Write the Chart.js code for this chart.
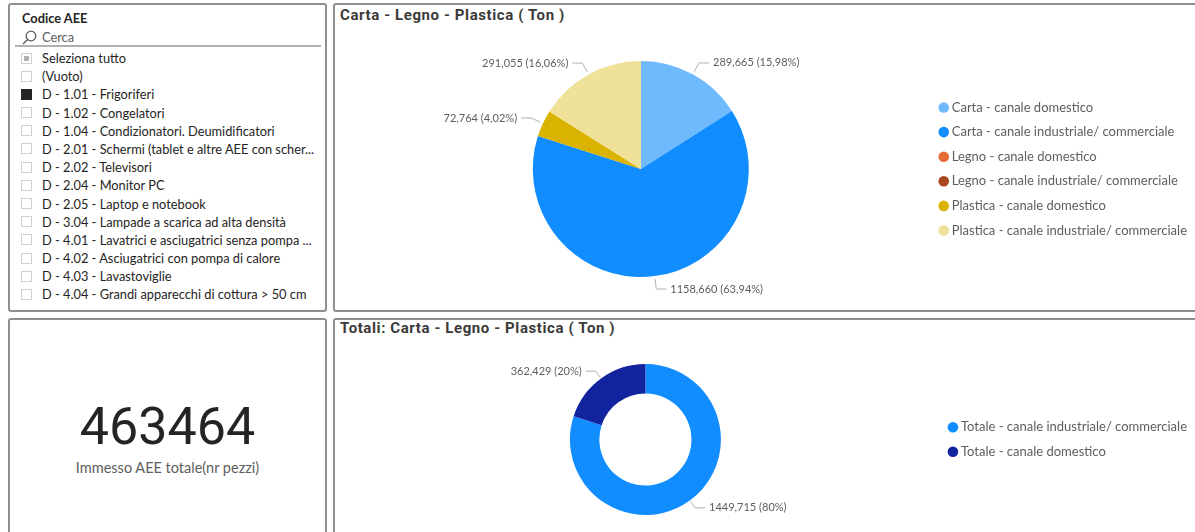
<!DOCTYPE html>
<html>
<head>
<meta charset="utf-8">
<script src="https://cdn.jsdelivr.net/npm/chart.js@4.4.1/dist/chart.umd.min.js"></script>
<style>
  body { margin: 0; width: 1195px; height: 532px; overflow: hidden; background: #fff; position: relative; font-family: Lato, sans-serif; }
  .panel { position: absolute; box-sizing: border-box; border: 2px solid #8f8f8f; border-radius: 3px; }
  .title { position: absolute; font-family: Roboto, sans-serif; font-weight: bold; font-size: 15px; letter-spacing: 0.6px; color: #3b3a39; white-space: nowrap; }
  canvas { position: absolute; }
  #slicer-head { position: absolute; left: 22px; top: 10px; font-size: 12.8px; font-weight: bold; color: #252423; }
  #search { position: absolute; left: 22px; top: 29px; font-size: 12.8px; color: #605e5c; }
  #search svg { position: absolute; left: 0; top: 1px; }
  #search span { position: absolute; left: 20px; top: 0; }
  #search-line { position: absolute; left: 15px; top: 45px; width: 306px; height: 2px; background: #b0b0b0; }
  #items { position: absolute; left: 21px; top: 49px; margin: 0; padding: 0; list-style: none; }
  #items li { height: 18.2px; line-height: 18.2px; font-size: 12.8px; color: #252423; white-space: nowrap; position: relative; padding-left: 21px; }
  #items li .box { position: absolute; left: 0; top: 3.5px; width: 11px; height: 11px; box-sizing: border-box; border: 1px solid #d2d0ce; }
  #items li .box.on { background: #252423; border-color: #252423; }
  #items li .box.part::after { content: ""; position: absolute; left: 2px; top: 2px; width: 5px; height: 5px; background: #b3b0ad; }
  #kpi { position: absolute; left: 8px; width: 319px; top: 397px; text-align: center; font-family: Roboto, sans-serif; font-size: 52px; color: #252423; line-height: 60px; }
  #kpi-label { position: absolute; left: 8px; width: 319px; top: 459px; text-align: center; font-size: 14.5px; color: #605e5c; }
</style>
</head>
<body>
<div class="panel" style="left:8px;top:3px;width:319px;height:309px"></div>
<div class="panel" style="left:333px;top:3px;width:900px;height:309px"></div>
<div class="panel" style="left:8px;top:318px;width:319px;height:250px"></div>
<div class="panel" style="left:333px;top:318px;width:900px;height:250px"></div>

<div id="slicer-head">Codice AEE</div>
<div id="search">
  <svg width="15" height="15" viewBox="0 0 15 15"><circle cx="9" cy="6" r="4.8" fill="none" stroke="#605e5c" stroke-width="1.3"/><line x1="5.6" y1="9.4" x2="1" y2="14" stroke="#605e5c" stroke-width="1.4"/></svg>
  <span>Cerca</span>
</div>
<div id="search-line"></div>
<ul id="items"></ul>

<div class="title" style="left:340px;top:6px">Carta - Legno - Plastica ( Ton )</div>
<div class="title" style="left:340px;top:319px">Totali: Carta - Legno - Plastica ( Ton )</div>

<div id="kpi"></div>
<div id="kpi-label"></div>

<canvas id="pieChart" width="860" height="288" style="left:337px;top:22px"></canvas>
<canvas id="donutChart" width="860" height="208" style="left:337px;top:322px"></canvas>

<script>
// slicer
const slicerItems = [
  "Seleziona tutto",
  "(Vuoto)",
  "D - 1.01 - Frigoriferi",
  "D - 1.02 - Congelatori",
  "D - 1.04 - Condizionatori. Deumidificatori",
  "D - 2.01 - Schermi (tablet e altre AEE con scher...",
  "D - 2.02 - Televisori",
  "D - 2.04 - Monitor PC",
  "D - 2.05 - Laptop e notebook",
  "D - 3.04 - Lampade a scarica ad alta densità",
  "D - 4.01 - Lavatrici e asciugatrici senza pompa ...",
  "D - 4.02 - Asciugatrici con pompa di calore",
  "D - 4.03 - Lavastoviglie",
  "D - 4.04 - Grandi apparecchi di cottura > 50 cm"
];
const slicerState = ["part", "", "on", "", "", "", "", "", "", "", "", "", "", ""];

// card
const kpiValue = 463464;
const kpiLabel = "Immesso AEE totale(nr pezzi)";

// pie: Carta - Legno - Plastica (Ton)
const pieLabels = [
  "Carta - canale domestico",
  "Carta - canale industriale/ commerciale",
  "Legno - canale domestico",
  "Legno - canale industriale/ commerciale",
  "Plastica - canale domestico",
  "Plastica - canale industriale/ commerciale"
];
const pieValues = [289.665, 1158.660, 0, 0, 72.764, 291.055];
const pieColors = ["#6fb9fd", "#118dff", "#e66c37", "#a9461d", "#d9b300", "#f0e199"];

// donut: totali
const donutLabels = ["Totale - canale industriale/ commerciale", "Totale - canale domestico"];
const donutValues = [1449.715, 362.429];
const donutColors = ["#118dff", "#12239e"];

const list = document.getElementById("items");
slicerItems.forEach((t, i) => {
  const li = document.createElement("li");
  const box = document.createElement("span");
  box.className = "box " + slicerState[i];
  li.appendChild(box);
  li.appendChild(document.createTextNode(t));
  list.appendChild(li);
});
document.getElementById("kpi").textContent = kpiValue;
document.getElementById("kpi-label").textContent = kpiLabel;

// labels with leader lines, like the Power BI detail labels
const leaderLabels = {
  id: "leaderLabels",
  afterDatasetsDraw(chart, args, opts) {
    const ctx = chart.ctx;
    const meta = chart.getDatasetMeta(0);
    const values = chart.data.datasets[0].data;
    const total = values.reduce((a, b) => a + b, 0);
    ctx.save();
    ctx.font = "11px Lato";
    ctx.textBaseline = "middle";
    ctx.lineWidth = 1;
    meta.data.forEach((arc, i) => {
      const v = values[i];
      if (!v) return;
      const { x, y, startAngle, endAngle, outerRadius } =
        arc.getProps(["x", "y", "startAngle", "endAngle", "outerRadius"], true);
      const mid = (startAngle + endAngle) / 2;
      const cos = Math.cos(mid), sin = Math.sin(mid);
      const x0 = x + cos * (outerRadius + opts.start), y0 = y + sin * (outerRadius + opts.start);
      const x1 = x + cos * (outerRadius + opts.elbow), y1 = y + sin * (outerRadius + opts.elbow);
      const dir = cos >= 0 ? 1 : -1;
      const x2 = x1 + dir * 10;
      ctx.strokeStyle = "#b3b0ad";
      ctx.beginPath();
      ctx.moveTo(x0, y0);
      ctx.lineTo(x1, y1);
      ctx.lineTo(x2, y1);
      ctx.stroke();
      ctx.fillStyle = "#605e5c";
      ctx.textAlign = dir > 0 ? "left" : "right";
      const pct = (v / total * 100).toFixed(opts.decimals).replace(".", ",");
      ctx.fillText(v.toFixed(3).replace(".", ",") + " (" + pct + "%)", x2 + dir * 4, y1);
    });
    ctx.restore();
  }
};

const legendOpts = {
  position: "right",
  labels: {
    usePointStyle: true,
    pointStyle: "circle",
    boxWidth: 3,
    boxHeight: 7.5,
    padding: 11.6,
    color: "#605e5c",
    font: { family: "Lato", size: 13 }
  }
};

new Chart(document.getElementById("pieChart"), {
  type: "pie",
  data: {
    labels: pieLabels,
    datasets: [{ data: pieValues, backgroundColor: pieColors, borderWidth: 0 }]
  },
  options: {
    responsive: false,
    animation: false,
    events: [],
    layout: { padding: { top: 39, bottom: 33, left: 14, right: 0 } },
    plugins: {
      legend: legendOpts,
      tooltip: { enabled: false },
      leaderLabels: { decimals: 2, start: 3, elbow: 13 }
    }
  },
  plugins: [leaderLabels]
});

new Chart(document.getElementById("donutChart"), {
  type: "doughnut",
  data: {
    labels: donutLabels,
    datasets: [{ data: donutValues, backgroundColor: donutColors, borderWidth: 0 }]
  },
  options: {
    responsive: false,
    animation: false,
    events: [],
    cutout: "61%",
    layout: { padding: { top: 42, bottom: 15, left: 14, right: 0 } },
    plugins: {
      legend: legendOpts,
      tooltip: { enabled: false },
      leaderLabels: { decimals: 0, start: 1, elbow: 9 }
    }
  },
  plugins: [leaderLabels]
});
</script>
</body>
</html>
